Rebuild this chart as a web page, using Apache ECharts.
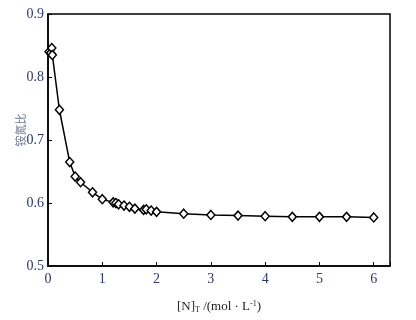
<!DOCTYPE html>
<html>
<head>
<meta charset="utf-8">
<script src="https://cdn.jsdelivr.net/npm/echarts@6/dist/echarts.min.js"></script>
<style>
  html, body { margin: 0; padding: 0; background: #fff; }
  #chart { width: 416px; height: 320px; }
</style>
</head>
<body>
<div id="chart"></div>
<script>
// concentration [N]T (mol/L)
const concN = [0.02, 0.05, 0.07, 0.08, 0.21, 0.40, 0.50, 0.60, 0.82, 1.0,
  1.2, 1.25, 1.3, 1.4, 1.5, 1.6, 1.76, 1.81, 1.9, 2.0,
  2.5, 3.0, 3.5, 4.0, 4.5, 5.0, 5.5, 6.0];
// ammonium / nitrogen ratio
const ratio = [0.840, 0.838, 0.846, 0.835, 0.748, 0.665, 0.642, 0.633, 0.617, 0.606,
  0.601, 0.600, 0.598, 0.596, 0.594, 0.591, 0.589, 0.590, 0.588, 0.586,
  0.583, 0.581, 0.580, 0.579, 0.578, 0.578, 0.578, 0.577];

const xTicks = [0, 1, 2, 3, 4, 5, 6];
const yTicks = [0.5, 0.6, 0.7, 0.8, 0.9];

const labelColor = "#2a3a6c";
const serif = "Liberation Serif";

const chart = echarts.init(document.getElementById("chart"));
chart.setOption({
  animation: false,
  grid: {
    left: 48, right: 26, top: 14, bottom: 54,
    show: true, borderColor: "#000", borderWidth: 1.5,
  },
  xAxis: {
    type: "value",
    min: 0,
    max: 6.3,
    interval: 1,
    name: "[N]{sub|T} /(mol · L{sup|-1})",
    nameLocation: "middle",
    nameGap: 34,
    nameTextStyle: {
      color: "#222", fontFamily: serif, fontSize: 13,
      rich: {
        sub: { fontSize: 8, verticalAlign: "bottom", padding: [6, 0, 0, 0], fontFamily: serif, color: "#222" },
        sup: { fontSize: 8, verticalAlign: "top", padding: [0, 0, 6, 0], fontFamily: serif, color: "#222" },
      },
    },
    axisLine: { lineStyle: { color: "#000", width: 1.5 } },
    axisTick: { inside: true, length: 4, lineStyle: { color: "#000" } },
    splitLine: { show: false },
    axisLabel: {
      color: labelColor, fontFamily: serif, fontSize: 14, margin: 6,
      formatter: (v) => (xTicks.includes(v) ? String(v) : ""),
    },
  },
  yAxis: {
    type: "value",
    min: 0.5,
    max: 0.9,
    interval: 0.1,
    name: "铵氮比",
    nameLocation: "middle",
    nameGap: 22,
    nameMoveOverlap: false,
    nameRotate: 90,
    nameTextStyle: { color: "#6b7891", fontSize: 11, fontFamily: "Noto Sans CJK SC", padding: [0, 0, 0, 20] },
    axisLine: { lineStyle: { color: "#000", width: 1.5 } },
    axisTick: { inside: true, length: 4, lineStyle: { color: "#000" } },
    splitLine: { show: false },
    axisLabel: {
      color: labelColor, fontFamily: serif, fontSize: 14, margin: 4,
      formatter: (v) => {
        const t = yTicks.find((y) => Math.abs(y - v) < 1e-6);
        return t === undefined ? "" : t.toFixed(1);
      },
    },
  },
  series: [
    {
      type: "line",
      data: concN.map((x, i) => [x, ratio[i]]),
      symbol: "diamond",
      symbolSize: [8, 9],
      showAllSymbol: true,
      lineStyle: { color: "#000", width: 1.5 },
      itemStyle: { color: "#fff", borderColor: "#000", borderWidth: 1.5 },
    },
  ],
});
</script>
</body>
</html>
